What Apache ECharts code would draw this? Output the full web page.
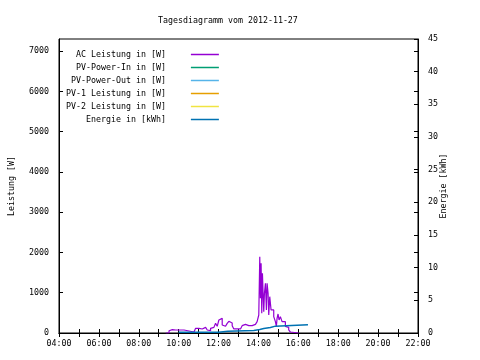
<!DOCTYPE html>
<html><head><meta charset="utf-8">
<script src="https://cdn.jsdelivr.net/npm/echarts@6/dist/echarts.min.js"></script>
<style>html,body{margin:0;padding:0;background:#fff}#c{width:480px;height:360px}</style>
</head><body><div id="c"></div>
<script>
const titleText = 'Tagesdiagramm vom 2012-11-27';
const seriesNames = ['AC Leistung in [W]', 'PV-Power-In in [W]', 'PV-Power-Out in [W]', 'PV-1 Leistung in [W]', 'PV-2 Leistung in [W]', 'Energie in [kWh]'];
const seriesColors = ['#9400d3', '#009e73', '#56b4e9', '#e69f00', '#f0e442', '#0072b2'];
const leftAxisName = 'Leistung [W]';
const rightAxisName = 'Energie [kWh]';

const acTimes = ['9:21','9:31','9:36','9:41','9:46','9:51','9:56','10:16','10:21','10:31','10:36','10:46','10:51','11:01','11:06','11:11','11:21','11:26','11:31','11:36','11:41','11:46','11:51','11:56','12:01','12:06','12:11','12:16','12:21','12:26','12:31','12:36','12:41','12:46','12:56','13:06','13:11','13:16','13:21','13:26','13:31','13:36','13:41','13:46','13:51','13:56','14:01','14:04','14:06','14:08','14:10','14:12','14:14','14:16','14:18','14:21','14:24','14:26','14:29','14:31','14:34','14:38','14:41','14:46','14:51','14:54','14:56','14:59','15:02','15:06','15:11','15:16','15:21','15:26','15:31','15:36','15:41','16:01'];
const acValues = [0,57,82,100,75,82,75,75,50,50,25,50,116,116,100,140,140,75,57,116,140,166,240,166,323,364,199,166,166,240,290,248,182,100,100,116,182,215,166,182,140,182,175,215,240,281,447,1895,861,1730,489,1482,985,530,985,1233,572,1233,985,447,902,572,572,406,281,166,364,472,323,406,281,281,166,140,75,25,0,0];

const energyTimes = ['10:00','12:00','12:28','13:46','14:04','14:16','14:36','14:51','16:29'];
const energyValues = [0.1,0.25,0.4,0.55,0.7,0.85,1.05,1.25,1.25];

const xTickLabels = ['04:00','06:00','08:00','10:00','12:00','14:00','16:00','18:00','20:00','22:00'];

function toMin(s){const p=s.split(':');return (+p[0])*60+(+p[1]);}
function pairs(t,v){return t.map((s,i)=>[toMin(s),v[i]]);}

const FONT = 'DejaVu Sans Mono';
const FS = 8.3;
const txt = {fontFamily: FONT, fontSize: FS, color: '#000'};
const black = {color:'#000', width:1};

const chart = echarts.init(document.getElementById('c'), null, {renderer:'canvas'});
const series = seriesNames.map((n,i)=>({
  name:n, type:'line', showSymbol:false, symbol:'none', step:'end',
  lineStyle:{color:seriesColors[i], width:1.2}, itemStyle:{color:seriesColors[i]},
  xAxisIndex:0, yAxisIndex: i===5?1:0, data:[] , animation:false
}));
series[0].data = pairs(acTimes, acValues);
series[5].data = pairs(energyTimes, energyValues);
series[5].lineStyle.width = 1.5;

chart.setOption({
  animation:false,
  backgroundColor:'#fff',
  title:{text:titleText, left:153, top:12, textStyle:Object.assign({}, txt, {fontWeight:'normal'})},
  grid:{left:58, right:62, top:39, bottom:27, show:true, borderColor:'#000', borderWidth:1, containLabel:false},
  legend:{
    orient:'vertical', align:'right', left:61, top:43, itemGap:0,
    icon:'rect', itemWidth:28, itemHeight:1.5,
    data:seriesNames,
    formatter: n => n + '    ',
    textStyle:Object.assign({}, txt, {lineHeight:13}),
    selectedMode:false
  },
  xAxis:[
    {type:'value', min:240, max:1320, interval:60, position:'bottom',
     axisLine:{lineStyle:black}, axisTick:{inside:true, length:4, lineStyle:black},
     splitLine:{show:false},
     axisLabel:Object.assign({}, txt, {margin:7, formatter: v => (v%120===0) ? xTickLabels[(v-240)/120] : ''})},
    {type:'value', min:240, max:1320, interval:60, position:'top',
     axisLine:{lineStyle:black}, axisTick:{inside:true, length:4, lineStyle:black},
     splitLine:{show:false}, axisLabel:{show:false}}
  ],
  yAxis:[
    {type:'value', min:0, max:7300, interval:1000, position:'left',
     name:leftAxisName, nameLocation:'middle', nameGap:43, nameTextStyle:txt, nameMoveOverlap:false,
     axisLine:{show:true, lineStyle:black}, axisTick:{show:true, inside:true, length:4, lineStyle:black},
     splitLine:{show:false},
     axisLabel:Object.assign({}, txt, {margin:10, showMaxLabel:false, formatter: v => String(v)})},
    {type:'value', min:0, max:45, interval:5, position:'right',
     name:rightAxisName, nameLocation:'middle', nameGap:22, nameTextStyle:txt, nameRotate:90, nameMoveOverlap:false,
     axisLine:{show:true, lineStyle:black}, axisTick:{show:true, inside:true, length:4, lineStyle:black},
     splitLine:{show:false},
     axisLabel:Object.assign({}, txt, {margin:10, formatter: v => String(v)})},
    {type:'value', min:0, max:7300, interval:1000, position:'right',
     axisLine:{show:false}, axisTick:{show:true, inside:true, length:4, lineStyle:black},
     splitLine:{show:false}, axisLabel:{show:false}}
  ],
  series: series
});
</script></body></html>
